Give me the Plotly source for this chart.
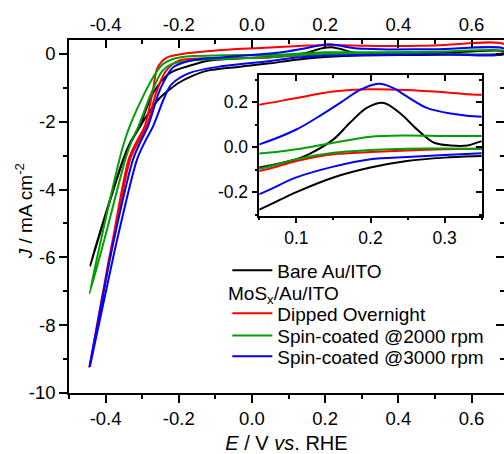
import plotly.graph_objects as go

# ---------------- data ----------------
# Bare Au/ITO (black): upper branch then lower branch
bare_E = [-0.442, -0.421, -0.352, -0.332, -0.307, -0.27, -0.225, -0.161, -0.12, -0.03, 0.05, 0.1, 0.118,
          0.15, 0.172, 0.195, 0.218, 0.24, 0.263, 0.286, 0.308, 0.331, 0.351, 0.45, 0.55, 0.69,
          0.69, 0.55, 0.45, 0.351, 0.3, 0.249, 0.2, 0.15, 0.1, 0.05, -0.033, -0.124, -0.161,
          -0.2, -0.225, -0.252, -0.28, -0.305, -0.33, -0.351, -0.42, -0.442]
bare_J = [-6.24, -5.46, -3.11, -2.6, -2.13, -1.15, -0.57, -0.32, -0.2, -0.13, -0.091, -0.054, -0.03,
          0.034, 0.107, 0.174, 0.196, 0.15, 0.078, 0.019, 0.007, 0.007, 0.026, 0.04, 0.05, 0.07,
          0.0, -0.02, -0.03, -0.04, -0.047, -0.062, -0.091, -0.135, -0.2, -0.278, -0.38, -0.5, -0.64,
          -0.85, -1.05, -1.3, -1.7, -2.13, -2.6, -3.11, -5.46, -6.24]

# MoSx/Au/ITO dipped overnight (red)
dip_E = [-0.444, -0.394, -0.38, -0.337, -0.316, -0.293, -0.272, -0.258, -0.234, -0.2, -0.179, -0.124,
         -0.052, 0.05, 0.1, 0.15, 0.2, 0.249, 0.3, 0.351, 0.5, 0.69,
         0.69, 0.5, 0.351, 0.3, 0.249, 0.2, 0.15, 0.1, 0.05, -0.05, -0.124, -0.2, -0.235,
         -0.262, -0.287, -0.311, -0.333, -0.377, -0.392, -0.444]
dip_J = [-9.23, -6.24, -5.46, -3.11, -2.6, -2.13, -1.15, -0.41, -0.12, -0.02, 0.02, 0.08,
         0.14, 0.188, 0.218, 0.247, 0.257, 0.254, 0.244, 0.232, 0.25, 0.28,
         0.05, 0.01, -0.007, -0.01, -0.015, -0.022, -0.032, -0.062, -0.106, -0.12, -0.13, -0.2, -0.5,
         -1.15, -2.13, -2.6, -3.11, -5.46, -6.24, -9.23]

# Spin-coated @2000 rpm (green)
s2000_E = [-0.444, -0.412, -0.362, -0.349, -0.334, -0.293, -0.265, -0.243, -0.216, -0.17, -0.08, 0.05,
           0.1, 0.15, 0.2, 0.249, 0.3, 0.351, 0.5, 0.69,
           0.69, 0.5, 0.351, 0.249, 0.2, 0.15, 0.1, 0.05, -0.08, -0.17, -0.22, -0.245, -0.275,
           -0.31, -0.33, -0.346, -0.403, -0.444]
s2000_J = [-7.07, -5.46, -3.11, -2.6, -2.13, -1.15, -0.6, -0.3, -0.15, -0.07, -0.04, -0.029,
           -0.01, 0.019, 0.046, 0.051, 0.049, 0.049, 0.06, 0.09,
           0.03, 0.0, -0.007, -0.007, -0.013, -0.025, -0.054, -0.096, -0.15, -0.2, -0.3, -0.5, -1.15,
           -2.13, -2.6, -3.11, -5.46, -7.07]

# Spin-coated @3000 rpm (blue)
s3000_E = [-0.444, -0.392, -0.377, -0.325, -0.305, -0.284, -0.255, -0.24, -0.216, -0.17, -0.079, 0.05,
           0.1, 0.127, 0.159, 0.186, 0.211, 0.231, 0.249, 0.276, 0.308, 0.351, 0.5, 0.69,
           0.69, 0.5, 0.351, 0.3, 0.249, 0.2, 0.15, 0.1, 0.05, -0.079, -0.17, -0.22, -0.24,
           -0.27, -0.293, -0.314, -0.368, -0.384, -0.443]
s3000_J = [-9.23, -6.24, -5.46, -3.11, -2.6, -2.13, -1.15, -0.8, -0.4, -0.2, -0.1, 0.012,
           0.078, 0.129, 0.196, 0.254, 0.281, 0.262, 0.225, 0.174, 0.149, 0.134, 0.14, 0.15,
           0.02, -0.01, -0.028, -0.035, -0.044, -0.054, -0.087, -0.135, -0.209, -0.36, -0.56, -0.9, -1.3,
           -2.13, -2.6, -3.11, -5.46, -6.24, -9.23]

series_names = ["Bare Au/ITO", "Dipped Overnight", "Spin-coated @2000 rpm", "Spin-coated @3000 rpm"]
series_colors = ["#000000", "#FF0000", "#00A000", "#0000FF"]
group_title = "MoS<sub>x</sub>/Au/ITO"
x_title = "<i>E</i> / V <i>vs</i>. RHE"
y_title = "<i>J</i> / mA cm<sup>-2</sup>"

# tick labels
x_tickvals = [-0.4, -0.2, 0.0, 0.2, 0.4, 0.6]
x_ticktext = ["-0.4", "-0.2", "0.0", "0.2", "0.4", "0.6"]
y_tickvals = [0, -2, -4, -6, -8, -10]
y_ticktext = ["0", "-2", "-4", "-6", "-8", "-10"]
ix_tickvals = [0.1, 0.2, 0.3]
ix_ticktext = ["0.1", "0.2", "0.3"]
iy_tickvals = [-0.2, 0.0, 0.2]
iy_ticktext = ["-0.2", "0.0", "0.2"]

# ---------------- figure ----------------
FONT = "Liberation Sans, Arial, sans-serif"
fig = go.Figure()

data = [(bare_E, bare_J), (dip_E, dip_J), (s2000_E, s2000_J), (s3000_E, s3000_J)]
legends = ["legend", "legend2", "legend3", "legend4"]
for (E, J), name, col, lg in zip(data, series_names, series_colors, legends):
    fig.add_trace(go.Scatter(x=E, y=J, mode="lines", name=name, legend=lg,
                             line=dict(color=col, width=2, shape="spline", smoothing=0.9),
                             hoverinfo="skip"))
for (E, J), name, col in zip(data, series_names, series_colors):
    fig.add_trace(go.Scatter(x=E, y=J, mode="lines", name=name, showlegend=False,
                             xaxis="x3", yaxis="y3",
                             line=dict(color=col, width=2, shape="spline", smoothing=0.9),
                             hoverinfo="skip"))
# empty traces so the mirror axes are drawn
for xa, ya in [("x2", "y"), ("x", "y2"), ("x4", "y3"), ("x3", "y4")]:
    fig.add_trace(go.Scatter(x=[], y=[], xaxis=xa, yaxis=ya, showlegend=False, hoverinfo="skip"))

XR = [-0.5, 0.6887]
YR = [-10, 0.41]
IXR = [0.05, 0.35]
IYR = [-0.305, 0.321]
tickfont = dict(family=FONT, size=18.5, color="black")
itickfont = dict(family=FONT, size=17.5, color="black")
axcommon = dict(showgrid=False, zeroline=False, linecolor="black", linewidth=1.5,
                tickcolor="black", tickwidth=1.5)

fig.update_layout(
    width=504, height=454, autosize=False,
    margin=dict(l=69, r=0, t=40, b=59),
    paper_bgcolor="white", plot_bgcolor="white",
    font=dict(family=FONT, size=18, color="black"),
    xaxis=dict(range=XR, tickmode="array", tickvals=x_tickvals, ticktext=x_ticktext,
               ticks="outside", ticklen=8, showline=True, tickfont=tickfont,
               minor=dict(tickmode="linear", tick0=0, dtick=0.1, ticks="outside", ticklen=4,
                          tickcolor="black", tickwidth=1.5),
               title=dict(text=x_title, font=dict(family=FONT, size=20), standoff=11),
               **axcommon),
    xaxis2=dict(range=XR, overlaying="x", anchor="y", side="top", tickmode="array",
                tickvals=x_tickvals, ticktext=x_ticktext, ticks="inside", ticklen=8,
                showline=True, tickfont=tickfont, ticklabelstandoff=0,
                minor=dict(tickmode="linear", tick0=0, dtick=0.1, ticks="inside", ticklen=4,
                           tickcolor="black", tickwidth=1.5),
                **axcommon),
    yaxis=dict(range=YR, tickmode="array", tickvals=y_tickvals, ticktext=y_ticktext,
               ticks="outside", ticklen=8, showline=True, tickfont=tickfont,
               minor=dict(tickmode="linear", tick0=0, dtick=1, ticks="outside", ticklen=4,
                          tickcolor="black", tickwidth=1.5),
               **axcommon),
    yaxis2=dict(range=YR, overlaying="y", anchor="x", side="right", tickmode="array",
                tickvals=y_tickvals, ticks="inside", ticklen=8, showline=False,
                showticklabels=False,
                minor=dict(tickmode="linear", tick0=0, dtick=1, ticks="inside", ticklen=4,
                           tickcolor="black", tickwidth=1.5),
                **axcommon),
    xaxis3=dict(domain=[0.4375, 0.9487], anchor="y3", range=IXR, tickmode="array",
                tickvals=ix_tickvals, ticktext=ix_ticktext, ticks="outside", ticklen=6,
                showline=True, tickfont=itickfont,
                minor=dict(tickmode="linear", tick0=0, dtick=0.05, ticks="outside", ticklen=3,
                           tickcolor="black", tickwidth=1.5),
                **axcommon),
    xaxis4=dict(range=IXR, overlaying="x3", anchor="y3", side="top", tickmode="array",
                tickvals=ix_tickvals, ticks="inside", ticklen=6, showline=True,
                showticklabels=False,
                minor=dict(tickmode="linear", tick0=0, dtick=0.05, ticks="inside", ticklen=3,
                           tickcolor="black", tickwidth=1.5),
                **axcommon),
    yaxis3=dict(domain=[0.5023, 0.9014], anchor="x3", range=IYR, tickmode="array",
                tickvals=iy_tickvals, ticktext=iy_ticktext, ticks="outside", ticklen=6,
                showline=True, tickfont=itickfont,
                minor=dict(tickmode="linear", tick0=0, dtick=0.1, ticks="outside", ticklen=3,
                           tickcolor="black", tickwidth=1.5),
                **axcommon),
    yaxis4=dict(range=IYR, overlaying="y3", anchor="x3", side="right", tickmode="array",
                tickvals=iy_tickvals, ticks="inside", ticklen=6, showline=True,
                showticklabels=False,
                minor=dict(tickmode="linear", tick0=0, dtick=0.1, ticks="inside", ticklen=3,
                           tickcolor="black", tickwidth=1.5),
                **axcommon),
    showlegend=True,
)

# y-axis title as rotated text beside the axis
fig.add_annotation(text=y_title, xref="paper", yref="paper", x=-0.1034, y=0.515,
                   xanchor="center", yanchor="middle", textangle=-90, showarrow=False,
                   font=dict(family=FONT, size=19, color="black"))
# legend group heading
fig.add_annotation(text=group_title, xref="paper", yref="paper", x=0.3632, y=0.278,
                   xanchor="left", yanchor="middle", showarrow=False, borderpad=0,
                   font=dict(family=FONT, size=19, color="black"))

legfont = dict(family=FONT, size=19, color="black")
legcommon = dict(bgcolor="rgba(0,0,0,0)", borderwidth=0, font=legfont, itemwidth=40,
                 xanchor="left", x=0.364)
fig.update_layout(
    legend=dict(y=0.3473, yanchor="middle", **legcommon),
    legend2=dict(y=0.2254, yanchor="middle", **legcommon),
    legend3=dict(y=0.1625, yanchor="middle", **legcommon),
    legend4=dict(y=0.1034, yanchor="middle", **legcommon),
)

fig.write_html("out.html")
